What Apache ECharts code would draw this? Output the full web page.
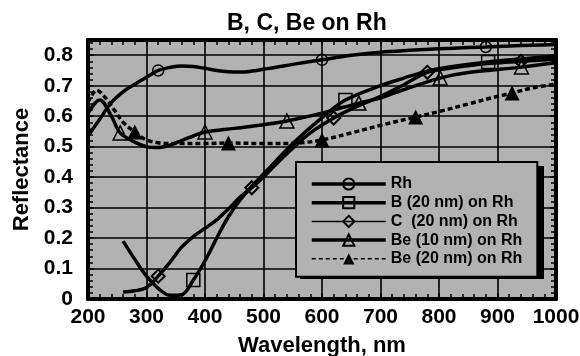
<!DOCTYPE html>
<html>
<head>
<meta charset="utf-8">
<script src="https://cdn.jsdelivr.net/npm/echarts@6/dist/echarts.min.js"></script>
<style>
html, body { margin: 0; padding: 0; background: #fff; }
#chart { width: 580px; height: 356px; }
</style>
</head>
<body>
<div id="chart"></div>
<script>
const font = '"Liberation Sans", Arial, sans-serif'

// Rh
const rhWl = [200, 220, 240, 260, 280, 300, 320, 340, 360, 380, 400, 420, 440, 460, 480, 500, 520, 550, 600, 650, 700, 750, 800, 850, 880, 920, 960, 1000]
const rhR = [0.535, 0.59, 0.645, 0.68, 0.705, 0.728, 0.75, 0.76, 0.765, 0.763, 0.757, 0.75, 0.746, 0.745, 0.748, 0.754, 0.76, 0.77, 0.785, 0.8, 0.81, 0.816, 0.821, 0.825, 0.827, 0.83, 0.833, 0.835]
const rhMarks = [320, 600, 880]

// B (20 nm) on Rh
const bWl = [260, 280, 300, 320, 340, 360, 380, 400, 420, 440, 460, 480, 500, 520, 550, 600, 640, 700, 740, 780, 820, 884, 940, 1000]
const bR = [0.19, 0.13, 0.075, 0.035, 0.012, 0.014, 0.062, 0.125, 0.2, 0.27, 0.325, 0.37, 0.41, 0.45, 0.51, 0.595, 0.653, 0.7, 0.725, 0.748, 0.762, 0.778, 0.788, 0.797]
const bMarks = [380, 640, 884]

// C (20 nm) on Rh
const cWl = [260, 280, 300, 320, 340, 360, 380, 400, 420, 440, 460, 480, 500, 520, 550, 580, 620, 660, 700, 740, 780, 820, 860, 900, 940, 1000]
const cR = [0.023, 0.027, 0.038, 0.075, 0.12, 0.17, 0.205, 0.232, 0.26, 0.295, 0.335, 0.365, 0.4, 0.44, 0.495, 0.545, 0.594, 0.632, 0.665, 0.703, 0.744, 0.758, 0.768, 0.775, 0.78, 0.787]
const cMarks = [320, 480, 620, 780, 940]

// Be (10 nm) on Rh
const be10Wl = [200, 220, 240, 255, 280, 300, 320, 340, 360, 380, 400, 450, 500, 540, 600, 663, 700, 738, 802, 850, 941, 1000]
const be10R = [0.61, 0.653, 0.6, 0.545, 0.515, 0.5, 0.497, 0.505, 0.52, 0.535, 0.548, 0.56, 0.572, 0.584, 0.61, 0.643, 0.66, 0.686, 0.725, 0.743, 0.761, 0.775]
const be10Marks = [255, 400, 540, 663, 802, 941]

// Be (20 nm) on Rh
const be20Wl = [200, 215, 230, 245, 260, 280, 300, 320, 350, 400, 440, 500, 560, 600, 650, 700, 760, 800, 850, 900, 925, 960, 1000]
const be20R = [0.645, 0.685, 0.66, 0.62, 0.58, 0.548, 0.522, 0.513, 0.51, 0.51, 0.512, 0.51, 0.512, 0.522, 0.545, 0.57, 0.597, 0.615, 0.64, 0.665, 0.676, 0.693, 0.705]
const be20Marks = [280, 440, 600, 760, 925]

const names = ['Rh', 'B (20 nm) on Rh', 'C  (20 nm) on Rh', 'Be (10 nm) on Rh', 'Be (20 nm) on Rh']

function buildData(wl, r, marks) {
  return wl.map((w, i) => marks.includes(w) ? [w, r[i]] : { value: [w, r[i]], symbol: 'none' })
}

const openItem = { color: 'rgba(0,0,0,0)', borderColor: '#000', borderWidth: 1.5 }

function lineSeries(name, data, symbol, size, item, lineStyle) {
  return {
    name: name,
    type: 'line',
    data: data,
    smooth: 0.35,
    showAllSymbol: true,
    symbol: symbol,
    symbolSize: size,
    lineStyle: Object.assign({ color: '#000', width: 3.5 }, lineStyle),
    itemStyle: item,
    emphasis: { disabled: true },
    z: 3
  }
}

const axisBase = {
  type: 'value',
  axisLine: { onZero: false, lineStyle: { color: '#000', width: 4 } },
  axisTick: { show: true, inside: true, length: 6, lineStyle: { color: '#000', width: 1.5 } },
  minorTick: { show: true, splitNumber: 5, length: 5, lineStyle: { color: '#000', width: 1.5 } }
}

const chart = echarts.init(document.getElementById('chart'))
chart.setOption({
  animation: false,
  title: {
    text: 'B, C, Be on Rh',
    left: 222,
    top: 7,
    textStyle: { fontFamily: font, fontWeight: 'bold', fontSize: 23, color: '#000' }
  },
  // legend drop shadow
  graphic: [{
    type: 'rect',
    left: 300,
    top: 166,
    shape: { width: 244, height: 113 },
    style: { fill: '#000' },
    z: 3
  }],
  legend: {
    orient: 'vertical',
    left: 296,
    top: 162,
    z: 5,
    padding: [14, 15, 10, 14],
    itemWidth: 74,
    itemHeight: 14,
    itemGap: 2.7,
    backgroundColor: '#b2b2b2',
    borderColor: '#000',
    borderWidth: 2,
    textStyle: { fontFamily: font, fontWeight: 'bold', fontSize: 16, color: '#000', lineHeight: 14 },
    data: [
      { name: names[0], lineStyle: { width: 3.5 } },
      { name: names[1], lineStyle: { width: 3.5 } },
      { name: names[2], lineStyle: { width: 1.5 } },
      { name: names[3], lineStyle: { width: 3.5 } },
      { name: names[4], lineStyle: { width: 1.5, type: [4, 3] } }
    ]
  },
  grid: {
    left: 88,
    right: 24,
    top: 40,
    bottom: 57,
    outerBoundsMode: 'none',
    containLabel: false,
    show: true,
    backgroundColor: '#b2b2b2',
    borderWidth: 0
  },
  xAxis: [
    Object.assign({}, axisBase, {
      min: 200,
      max: 1000,
      interval: 100,
      name: 'Wavelength, nm',
      nameLocation: 'middle',
      nameGap: 36,
      nameTextStyle: { fontFamily: font, fontWeight: 'bold', fontSize: 22, color: '#000' },
      splitLine: { show: true, lineStyle: { color: '#000', width: 1.6 } },
      axisLabel: { margin: 8, formatter: v => String(v), fontFamily: font, fontWeight: 'bold', fontSize: 21, color: '#000' }
    }),
    Object.assign({}, axisBase, {
      position: 'top',
      min: 200,
      max: 1000,
      interval: 100,
      splitLine: { show: false },
      axisLabel: { show: false }
    })
  ],
  yAxis: [
    Object.assign({}, axisBase, {
      min: 0,
      max: 0.85,
      interval: 0.1,
      name: 'Reflectance',
      nameLocation: 'middle',
      nameGap: 52,
      nameTextStyle: { fontFamily: font, fontWeight: 'bold', fontSize: 22, color: '#000' },
      splitLine: { show: true, lineStyle: { color: '#000', width: 1.6 } },
      axisLabel: { margin: 15, showMaxLabel: false, fontFamily: font, fontWeight: 'bold', fontSize: 21, color: '#000' }
    }),
    Object.assign({}, axisBase, {
      position: 'right',
      min: 0,
      max: 0.85,
      interval: 0.1,
      splitLine: { show: false },
      axisLabel: { show: false }
    })
  ],
  series: [
    lineSeries(names[0], buildData(rhWl, rhR, rhMarks), 'circle', 11, openItem),
    lineSeries(names[1], buildData(bWl, bR, bMarks), 'rect', 13, openItem),
    lineSeries(names[2], buildData(cWl, cR, cMarks), 'diamond', 13, Object.assign({}, openItem, { borderWidth: 2 })),
    lineSeries(names[3], buildData(be10Wl, be10R, be10Marks), 'triangle', 14, openItem),
    lineSeries(names[4], buildData(be20Wl, be20R, be20Marks), 'triangle', 15, { color: '#000' }, { type: [5, 3], width: 3.5 })
  ]
})
</script>
</body>
</html>
